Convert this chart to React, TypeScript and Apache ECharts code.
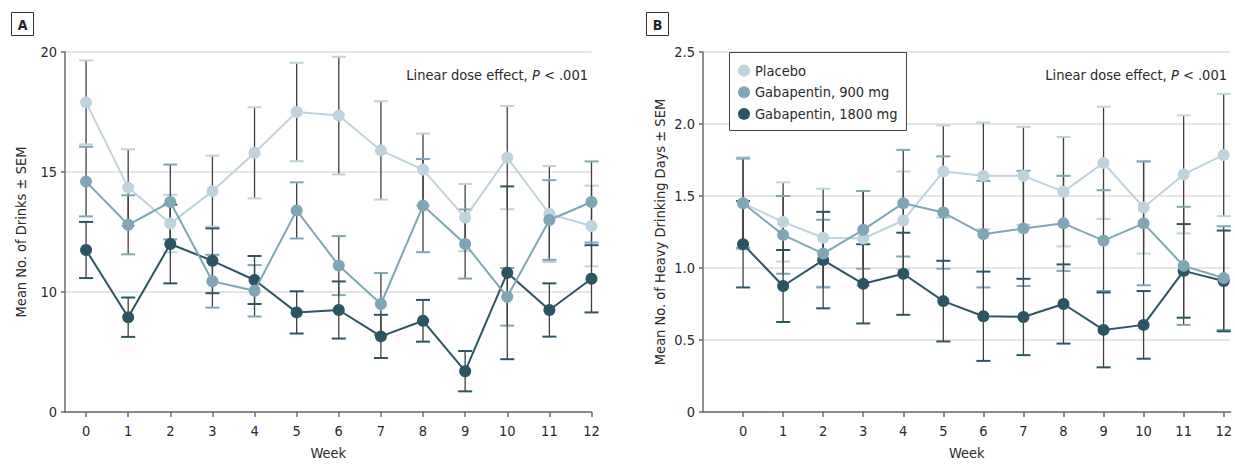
import React, { useEffect, useRef } from "react";
import * as echarts from "echarts";

const weeks = [0, 1, 2, 3, 4, 5, 6, 7, 8, 9, 10, 11, 12];
const seriesNames = ["Placebo", "Gabapentin, 900 mg", "Gabapentin, 1800 mg"];
const seriesColors = ["#bfd3dc", "#7fa6b5", "#2b5563"];

// Panel A: Mean No. of Drinks ± SEM (broken axis: the bottom tick stands for 0, drawn at 5)
const drinksPlacebo = [17.9, 14.35, 12.85, 14.2, 15.8, 17.5, 17.35, 15.9, 15.1, 13.1, 15.6, 13.25, 12.75];
const drinksPlaceboSem = [1.75, 1.6, 1.2, 1.48, 1.9, 2.05, 2.45, 2.05, 1.5, 1.4, 2.15, 2.0, 1.68];
const drinks900 = [14.6, 12.8, 13.75, 10.45, 10.05, 13.4, 11.1, 9.5, 13.6, 12.0, 9.8, 13.0, 13.75];
const drinks900Sem = [1.45, 1.23, 1.56, 1.1, 1.07, 1.17, 1.23, 1.29, 1.94, 1.44, 1.2, 1.66, 1.69];
const drinks1800 = [11.75, 8.95, 12.0, 11.3, 10.5, 9.15, 9.25, 8.15, 8.8, 6.7, 10.8, 9.25, 10.55];
const drinks1800Sem = [1.17, 0.82, 1.64, 1.35, 1.0, 0.88, 1.19, 0.9, 0.87, 0.84, 3.6, 1.11, 1.4];
const drinksTickValues = [5, 10, 15, 20];
const drinksTickLabels = ["0", "10", "15", "20"];

// Panel B: Mean No. of Heavy Drinking Days ± SEM
const heavyPlacebo = [1.45, 1.32, 1.21, 1.205, 1.33, 1.67, 1.64, 1.64, 1.53, 1.73, 1.42, 1.65, 1.785];
const heavyPlaceboSem = [0.32, 0.275, 0.34, 0.33, 0.34, 0.32, 0.37, 0.34, 0.38, 0.39, 0.32, 0.41, 0.425];
const heavy900 = [1.45, 1.23, 1.1, 1.265, 1.45, 1.385, 1.235, 1.275, 1.31, 1.19, 1.31, 1.015, 0.93];
const heavy900Sem = [0.31, 0.27, 0.235, 0.27, 0.37, 0.39, 0.37, 0.4, 0.33, 0.35, 0.43, 0.41, 0.36];
const heavy1800 = [1.165, 0.875, 1.055, 0.89, 0.96, 0.77, 0.665, 0.66, 0.75, 0.57, 0.605, 0.98, 0.91];
const heavy1800Sem = [0.3, 0.25, 0.335, 0.275, 0.285, 0.28, 0.31, 0.265, 0.275, 0.26, 0.235, 0.325, 0.35];

const FONT = '"Liberation Sans Narrow", "DejaVu Sans Condensed", "Roboto Condensed", "Noto Sans", sans-serif';
const FS = 14.5;
const TEXT = "#2a2a2a";
const AXIS = "#6b6b6b";
const GRIDLINE = "#dedede";

function errSeries(values: number[], sems: number[], color: string, axis: number) {
  return {
    type: "custom",
    xAxisIndex: axis,
    yAxisIndex: axis,
    z: 1,
    silent: true,
    encode: { x: 0, y: [1, 2] },
    data: weeks.map((w, i) => [w, values[i] - sems[i], values[i] + sems[i]]),
    renderItem: (params: any, api: any) => {
      const x = api.value(0);
      const pLo = api.coord([x, api.value(1)]);
      const pHi = api.coord([x, api.value(2)]);
      const hw = 7;
      return {
        type: "group",
        children: [
          { type: "line", shape: { x1: pHi[0], y1: pHi[1], x2: pLo[0], y2: pLo[1] }, style: { stroke: "#3f3f3f", lineWidth: 1.3 } },
          { type: "line", shape: { x1: pHi[0] - hw, y1: pHi[1], x2: pHi[0] + hw, y2: pHi[1] }, style: { stroke: color, lineWidth: 2 } },
          { type: "line", shape: { x1: pLo[0] - hw, y1: pLo[1], x2: pLo[0] + hw, y2: pLo[1] }, style: { stroke: color, lineWidth: 2 } },
        ],
      };
    },
  };
}

function lineSeries(name: string, values: number[], color: string, axis: number, z: number) {
  return {
    type: "line",
    name,
    xAxisIndex: axis,
    yAxisIndex: axis,
    z,
    data: weeks.map((w, i) => [w, values[i]]),
    symbol: "circle",
    symbolSize: 12,
    lineStyle: { color, width: 2 },
    itemStyle: { color },
  };
}

function xAxis(grid: number, min: number, max: number) {
  return {
    type: "value",
    gridIndex: grid,
    min,
    max,
    name: "Week",
    nameLocation: "middle",
    nameGap: 33,
    nameTextStyle: { fontFamily: FONT, fontSize: FS, color: TEXT },
    axisLine: { show: true, onZero: false, lineStyle: { color: AXIS, width: 1.5 } },
    axisTick: { show: true, length: 5, lineStyle: { color: AXIS, width: 1.5 }, customValues: weeks },
    axisLabel: { fontFamily: FONT, fontSize: FS, color: TEXT, margin: 11, customValues: weeks },
    splitLine: { show: false },
  };
}

function yAxisBase(grid: number, name: string, nameGap: number) {
  return {
    type: "value",
    gridIndex: grid,
    name,
    nameLocation: "middle",
    nameGap,
    nameTextStyle: { fontFamily: FONT, fontSize: 14.5, color: TEXT },
    axisLine: { show: true, onZero: false, lineStyle: { color: AXIS, width: 1.5 } },
    axisTick: { show: true, length: 4, lineStyle: { color: AXIS, width: 1.5 } },
    splitLine: { show: true, lineStyle: { color: GRIDLINE, width: 1.5 } },
  };
}

function panelLabel(letter: string, x: number) {
  return [
    { type: "rect", shape: { x: x + 0.5, y: 12.5, width: 22, height: 23 }, style: { fill: "#fff", stroke: "#333", lineWidth: 1 } },
    {
      type: "text",
      x: x + 11.5,
      y: 24.5,
      style: { text: letter, fontFamily: FONT, fontSize: 14, fontWeight: "bold", fill: "#222", align: "center", verticalAlign: "middle" },
    },
  ];
}

function doseText(rightX: number) {
  return {
    type: "text",
    x: rightX,
    y: 75,
    z: 10,
    style: {
      text: "{n|Linear dose effect, }{i|P}{n| < .001}",
      align: "right",
      verticalAlign: "middle",
      fontFamily: FONT,
      fontSize: FS,
      fill: TEXT,
      rich: {
        n: { fontFamily: FONT, fontSize: FS, fill: TEXT },
        i: { fontFamily: FONT, fontSize: FS, fontStyle: "italic", fill: TEXT },
      },
    },
  };
}

export default function App() {
  const ref = useRef<HTMLDivElement>(null);
  useEffect(() => {
    if (!ref.current) return;
    const chart = echarts.init(ref.current, null, { renderer: "svg" });
    const drinks = [drinksPlacebo, drinks900, drinks1800];
    const drinksSem = [drinksPlaceboSem, drinks900Sem, drinks1800Sem];
    const heavy = [heavyPlacebo, heavy900, heavy1800];
    const heavySem = [heavyPlaceboSem, heavy900Sem, heavy1800Sem];
    const zOrder = [2, 4, 3];
    const series: any[] = [];
    [0, 1, 2].forEach((k) => series.push(errSeries(drinks[k], drinksSem[k], seriesColors[k], 0)));
    [0, 1, 2].forEach((k) => series.push(errSeries(heavy[k], heavySem[k], seriesColors[k], 1)));
    [0, 1, 2].forEach((k) => series.push(lineSeries(seriesNames[k], drinks[k], seriesColors[k], 0, zOrder[k])));
    [0, 1, 2].forEach((k) => series.push(lineSeries(seriesNames[k], heavy[k], seriesColors[k], 1, zOrder[k])));

    chart.setOption({
      animation: false,
      backgroundColor: "#ffffff",
      textStyle: { fontFamily: FONT },
      grid: [
        { left: 65, top: 52, width: 526.5, height: 366 },
        { left: 703, top: 52, width: 532, height: 366 },
      ],
      xAxis: [xAxis(0, -0.5, 12), xAxis(1, -1, 12.17)],
      yAxis: [
        {
          ...yAxisBase(0, "Mean No. of Drinks ± SEM", 37),
          min: 5,
          max: 20,
          interval: 5,
          axisLabel: {
            fontFamily: FONT,
            fontSize: FS,
            color: TEXT,
            margin: 8,
            formatter: (v: number) => {
              const idx = drinksTickValues.indexOf(v);
              return idx >= 0 ? drinksTickLabels[idx] : "";
            },
          },
        },
        {
          ...yAxisBase(1, "Mean No. of Heavy Drinking Days ± SEM", 36),
          min: 0,
          max: 2.5,
          interval: 0.5,
          axisLabel: {
            fontFamily: FONT,
            fontSize: FS,
            color: TEXT,
            margin: 8,
            formatter: (v: number) => (v === 0 ? "0" : v.toFixed(1)),
          },
        },
      ],
      legend: {
        data: seriesNames,
        orient: "vertical",
        left: 738,
        top: 63,
        z: 20,
        icon: "circle",
        itemWidth: 12,
        itemHeight: 12,
        itemGap: 6.7,
        itemTextGap: 5,
        padding: 0,
        selectedMode: false,
        textStyle: { fontFamily: FONT, fontSize: FS, color: TEXT, lineHeight: 15 },
      },
      graphic: [
        ...panelLabel("A", 11),
        ...panelLabel("B", 646),
        doseText(588),
        doseText(1227),
        {
          type: "rect",
          z: 15,
          shape: { x: 729.5, y: 52.5, width: 177, height: 78 },
          style: { fill: "#fff", stroke: "#444", lineWidth: 1 },
        },
      ],
      series,
    });
    return () => chart.dispose();
  }, []);
  return <div ref={ref} style={{ position: "absolute", left: 0, top: 0, width: 1235, height: 465 }} />;
}
